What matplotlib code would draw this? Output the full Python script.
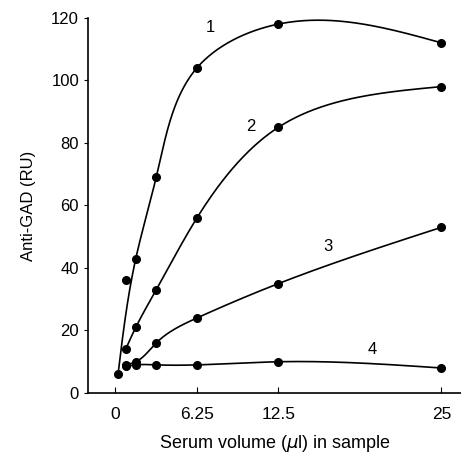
import numpy as np
import matplotlib
matplotlib.use("Agg")
import matplotlib.pyplot as plt

plt.rcParams['font.family'] = ['Liberation Sans', 'DejaVu Sans']

# serum volumes (ul) and anti-GAD values for the four sera
x1 = [0.2, 1.56, 3.125, 6.25, 12.5, 25]
y1 = [6, 43, 69, 104, 118, 112]
x1_extra = [0.78]
y1_extra = [36]

x2 = [0.78, 1.56, 3.125, 6.25, 12.5, 25]
y2 = [14, 21, 33, 56, 85, 98]

x3 = [0.78, 1.56, 3.125, 6.25, 12.5, 25]
y3 = [9, 10, 16, 24, 35, 53]

x4 = [0.78, 1.56, 3.125, 6.25, 12.5, 25]
y4 = [8.5, 9, 9, 9, 10, 8]

xticks = [0, 6.25, 12.5, 25]
xtick_labels = ['0', '6.25', '12.5', '25']
yticks = [0, 20, 40, 60, 80, 100, 120]


def spline_coeffs(t, v):
    k = len(t)
    h = np.diff(t)
    A = np.zeros((k, k))
    b = np.zeros(k)
    A[0, 0] = A[-1, -1] = 1
    for i in range(1, k - 1):
        A[i, i - 1] = h[i - 1]
        A[i, i] = 2 * (h[i - 1] + h[i])
        A[i, i + 1] = h[i]
        b[i] = 3 * ((v[i + 1] - v[i]) / h[i] - (v[i] - v[i - 1]) / h[i - 1])
    return np.linalg.solve(A, b)


def spline_eval(t, v, c, ts):
    h = np.diff(t)
    idx = np.clip(np.searchsorted(t, ts) - 1, 0, len(t) - 2)
    d = (c[idx + 1] - c[idx]) / (3 * h[idx])
    bb = (v[idx + 1] - v[idx]) / h[idx] - h[idx] * (2 * c[idx] + c[idx + 1]) / 3
    s = ts - t[idx]
    return v[idx] + bb * s + c[idx] * s ** 2 + d * s ** 3


def smooth(x, y, sx=13.0, sy=3.1, n=400):
    # parametric spline on roughly screen-scaled coords, for drawing only
    px = np.asarray(x, float) * sx
    py = np.asarray(y, float) * sy
    t = np.concatenate([[0], np.cumsum(np.hypot(np.diff(px), np.diff(py)))])
    ts = np.linspace(0, t[-1], n)
    qx = spline_eval(t, px, spline_coeffs(t, px), ts)
    qy = spline_eval(t, py, spline_coeffs(t, py), ts)
    return qx / sx, qy / sy


fig = plt.figure(figsize=(4.61, 4.57), dpi=100)
ax = fig.add_axes([0.191, 0.140, 0.809, 0.821])

for xs, ys in [(x1, y1), (x2, y2), (x3, y3), (x4, y4)]:
    cx, cy = smooth(xs, ys)
    ax.plot(cx, cy, color='black', lw=1.2)
    ax.plot(xs, ys, 'o', color='black', ms=5.5)
ax.plot(x1_extra, y1_extra, 'o', color='black', ms=5.5)

ax.text(7.3, 117, '1', fontsize=12, ha='center', va='center')
ax.text(10.35, 85.4, '2', fontsize=12, ha='center', va='center')
ax.text(16.3, 47, '3', fontsize=12, ha='center', va='center')
ax.text(19.7, 13.8, '4', fontsize=12, ha='center', va='center')

ax.set_xlim(-2.1, 26.5)
ax.set_ylim(0, 120)
ax.set_xticks(xticks)
ax.set_xticklabels(xtick_labels)
ax.set_yticks(yticks)
ax.spines['top'].set_visible(False)
ax.spines['right'].set_visible(False)
ax.spines['left'].set_linewidth(1.2)
ax.spines['bottom'].set_linewidth(1.2)
ax.tick_params(axis='x', direction='in', length=4, labelsize=12.5, pad=10)
ax.tick_params(axis='y', direction='out', length=3, labelsize=12)

ax.set_xlabel(r'Serum volume ($\mu$l) in sample', fontsize=13, labelpad=8)
ax.set_ylabel('Anti-GAD (RU)', fontsize=12, labelpad=11)

fig.savefig('out.png', dpi=100)
